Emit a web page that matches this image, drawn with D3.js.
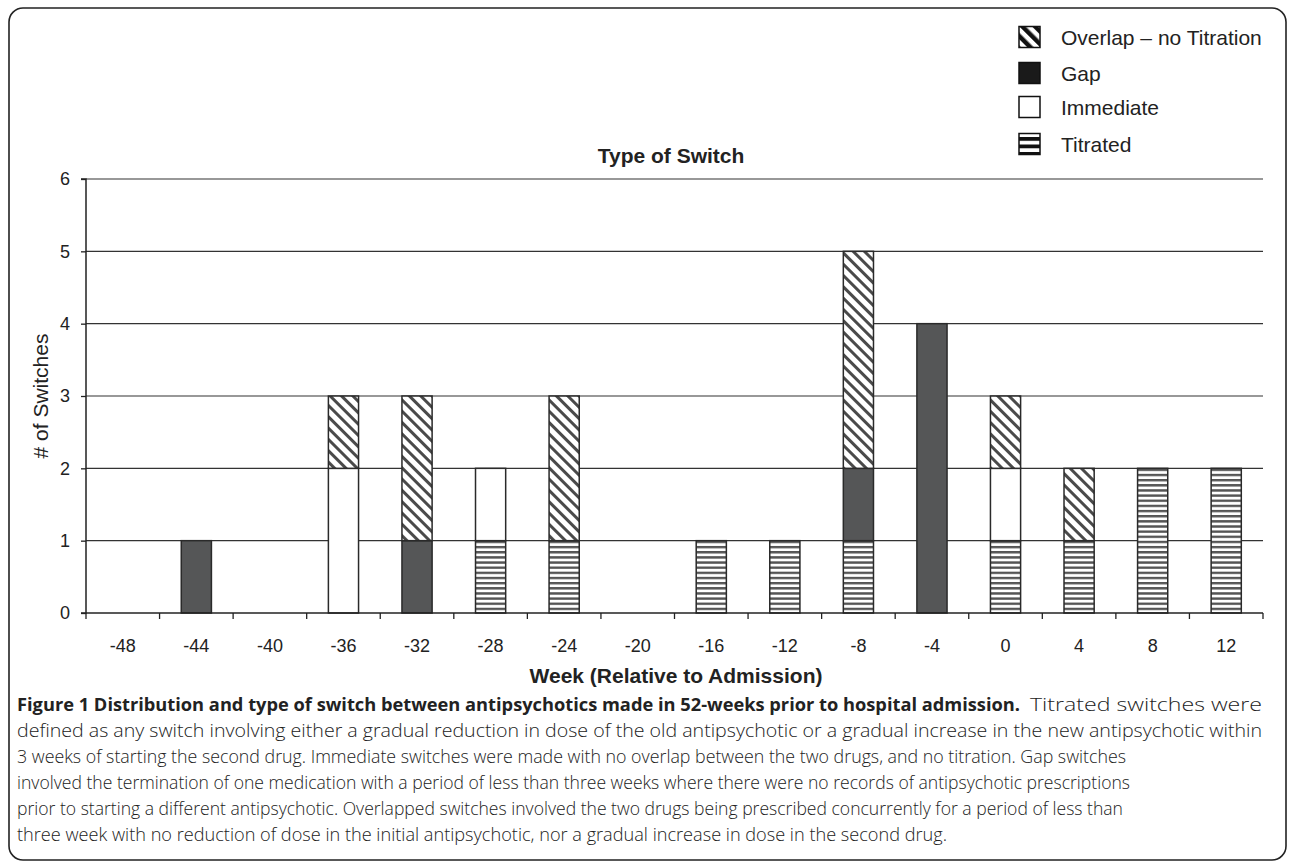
<!DOCTYPE html>
<html>
<head>
<meta charset="utf-8">
<script src="https://cdn.jsdelivr.net/npm/d3@7"></script>
<style>
html,body{margin:0;padding:0;background:#fff;}
svg{display:block;}
</style>
</head>
<body>
<svg id="chart" width="1290" height="863"></svg>
<script>
// ---- data ----
const weeks = ["-48","-44","-40","-36","-32","-28","-24","-20","-16","-12","-8","-4","0","4","8","12"];
const titrated  = [0,0,0,0,0,1,1,0,1,1,1,0,1,1,2,2];
const gap       = [0,1,0,0,1,0,0,0,0,0,1,4,0,0,0,0];
const immediate = [0,0,0,2,0,1,0,0,0,0,0,0,1,0,0,0];
const overlap   = [0,0,0,1,2,0,2,0,0,0,3,0,1,1,0,0];
const seriesKeys = ["Titrated","Gap","Immediate","Overlap"];
const legendLabels = ["Overlap \u2013 no Titration","Gap","Immediate","Titrated"];
const yTicks = [0,1,2,3,4,5,6];
const chartTitle = "Type of Switch";
const xTitle = "Week (Relative to Admission)";
const yTitle = "# of Switches";
const captionBold = "Figure 1 Distribution and type of switch between antipsychotics made in 52-weeks prior to hospital admission.";
const captionLines = [
  "Titrated switches were",
  "defined as any switch involving either a gradual reduction in dose of the old antipsychotic or a gradual increase in the new antipsychotic within",
  "3 weeks of starting the second drug. Immediate switches were made with no overlap between the two drugs, and no titration. Gap switches",
  "involved the termination of one medication with a period of less than three weeks where there were no records of antipsychotic prescriptions",
  "prior to starting a different antipsychotic. Overlapped switches involved the two drugs being prescribed concurrently for a period of less than",
  "three week with no reduction of dose in the initial antipsychotic, nor a gradual increase in dose in the second drug."
];

const table = weeks.map((w,i)=>({week:w, Titrated:titrated[i], Gap:gap[i], Immediate:immediate[i], Overlap:overlap[i]}));

const svg = d3.select("#chart");
const defs = svg.append("defs");

// patterns
const pOver = defs.append("pattern").attr("id","pOver").attr("patternUnits","userSpaceOnUse")
  .attr("width",8).attr("height",8).attr("patternTransform","rotate(-45)");
pOver.append("rect").attr("width",8).attr("height",8).attr("fill","#fff");
pOver.append("rect").attr("x",0).attr("y",0).attr("width",3).attr("height",8).attr("fill","#4a4a4a");

const pTit = defs.append("pattern").attr("id","pTit").attr("patternUnits","userSpaceOnUse")
  .attr("width",10).attr("height",5.15);
pTit.append("rect").attr("width",10).attr("height",5.15).attr("fill","#fff");
pTit.append("rect").attr("y",0).attr("width",10).attr("height",2.4).attr("fill","#555");

const pOverL = defs.append("pattern").attr("id","pOverL").attr("patternUnits","userSpaceOnUse")
  .attr("width",9).attr("height",9).attr("patternTransform","rotate(-45)");
pOverL.append("rect").attr("width",9).attr("height",9).attr("fill","#fff");
pOverL.append("rect").attr("width",4.5).attr("height",9).attr("fill","#111");

const pTitL = defs.append("pattern").attr("id","pTitL").attr("patternUnits","userSpaceOnUse")
  .attr("width",30).attr("height",7.5).attr("y",2);
pTitL.append("rect").attr("width",30).attr("height",7.5).attr("fill","#fff");
pTitL.append("rect").attr("width",30).attr("height",3.8).attr("fill","#111");

const fills = {Titrated:"url(#pTit)", Gap:"#555657", Immediate:"#fff", Overlap:"url(#pOver)"};
const legendFills = {"Overlap":"url(#pOverL)", "Gap":"#1a1a1a", "Immediate":"#fff", "Titrated":"url(#pTitL)"};

// outer rounded border
svg.append("rect").attr("x",9).attr("y",8).attr("width",1277).attr("height",852)
  .attr("rx",14).attr("fill","none").attr("stroke","#222").attr("stroke-width",1.6);

const mLeft = 86, mRight = 1263, mTop = 179, mBottom = 613;
const x = d3.scaleBand().domain(weeks).range([mLeft,mRight]).paddingInner(0).paddingOuter(0);
const y = d3.scaleLinear().domain([0,6]).range([mBottom,mTop]);
const font = "'Liberation Sans', Arial, sans-serif";

// gridlines
svg.append("g").selectAll("line").data(yTicks.filter(d=>d>0)).join("line")
  .attr("x1",mLeft).attr("x2",mRight).attr("y1",d=>y(d)).attr("y2",d=>y(d))
  .attr("stroke","#333").attr("stroke-width",1.2);

// bars
const stack = d3.stack().keys(seriesKeys)(table);
const bw = x.bandwidth()*0.41;
svg.append("g").selectAll("g").data(stack).join("g")
  .attr("fill",d=>fills[d.key])
  .selectAll("rect").data(d=>d.filter(s=>s[1]>s[0])).join("rect")
  .attr("x",d=>x(d.data.week)+(x.bandwidth()-bw)/2)
  .attr("width",bw)
  .attr("y",d=>y(d[1]))
  .attr("height",d=>y(d[0])-y(d[1]))
  .attr("stroke","#2a2a2a").attr("stroke-width",1.5);

// y axis
const yAxis = d3.axisLeft(y).tickValues(yTicks).tickSize(5).tickPadding(11).tickFormat(d3.format("d"));
const gy = svg.append("g").attr("transform",`translate(${mLeft},0)`).call(yAxis);
gy.select(".domain").attr("stroke","#222").attr("stroke-width",1.5).attr("d",`M-5,${mTop}H0V${mBottom}H-5`);
gy.selectAll(".tick line").attr("stroke","#222").attr("stroke-width",1.3);
gy.selectAll("text").attr("font-family",font).attr("font-size",18).attr("fill","#222");

// x axis: ticks at category boundaries
svg.append("line").attr("x1",mLeft).attr("x2",mRight).attr("y1",mBottom).attr("y2",mBottom)
  .attr("stroke","#222").attr("stroke-width",1.5);
const bounds = weeks.map(w=>x(w)).concat([mRight]);
svg.append("g").selectAll("line").data(bounds).join("line")
  .attr("x1",d=>d).attr("x2",d=>d).attr("y1",mBottom).attr("y2",mBottom+6)
  .attr("stroke","#222").attr("stroke-width",1.3);
svg.append("g").selectAll("text").data(weeks).join("text")
  .attr("x",d=>x(d)+x.bandwidth()/2).attr("y",652)
  .attr("text-anchor","middle").attr("font-family",font).attr("font-size",18).attr("fill","#222")
  .text(d=>d);

// titles
svg.append("text").attr("x",676).attr("y",683).attr("text-anchor","middle")
  .attr("font-family",font).attr("font-size",21).attr("font-weight","bold").attr("fill","#222").text(xTitle);
svg.append("text").attr("transform",`translate(48,${(mTop+mBottom)/2}) rotate(-90)`).attr("text-anchor","middle")
  .attr("font-family",font).attr("font-size",21).attr("fill","#222").text(yTitle);
svg.append("text").attr("x",671).attr("y",163).attr("text-anchor","middle")
  .attr("font-family",font).attr("font-size",21).attr("font-weight","bold").attr("fill","#222").text(chartTitle);

// legend
const legendKeys = ["Overlap","Gap","Immediate","Titrated"];
const ly = [37,73,107,144];
const lg = svg.append("g");
legendKeys.forEach((k,i)=>{
  lg.append("rect").attr("x",1019).attr("y",ly[i]-10.5).attr("width",21).attr("height",21)
    .attr("fill",legendFills[k]).attr("stroke","#111").attr("stroke-width",1.5);
  lg.append("text").attr("x",1061).attr("y",ly[i]+7.5).attr("font-family",font).attr("font-size",21)
    .attr("fill","#222").text(legendLabels[i]);
});

// caption: one common font size (largest that lets every line fit), exact fit via textLength
const cfont = "'Open Sans', 'Noto Sans', sans-serif";
const cy0 = 711, dy = 26;
const ends = [1262,1262,1126,1130,1123,947];
const specs = [{x0:17, x1:1020, s:captionBold, w:"bold", line:0}]
  .concat(captionLines.map((s,i)=>({x0: i===0?1030:17, x1: ends[i], s, w:300, line:i})));
const base = 20;
const nodes = specs.map(sp=>{
  const t = svg.append("text").attr("x",sp.x0).attr("y",cy0+sp.line*dy).attr("font-family",cfont)
    .attr("font-size",base).attr("font-weight",sp.w).attr("fill","#222").text(sp.s);
  sp.ratio = (sp.x1-sp.x0)/t.node().getComputedTextLength();
  return t;
});
const regRatio = d3.min(specs.slice(1), d=>d.ratio);
nodes.forEach((t,i)=>{
  const sp = specs[i];
  const r = i===0 ? sp.ratio : regRatio;
  t.attr("font-size", base*Math.min(1,r)*0.995)
   .attr("textLength", sp.x1-sp.x0).attr("lengthAdjust","spacingAndGlyphs");
});
</script>
</body>
</html>
